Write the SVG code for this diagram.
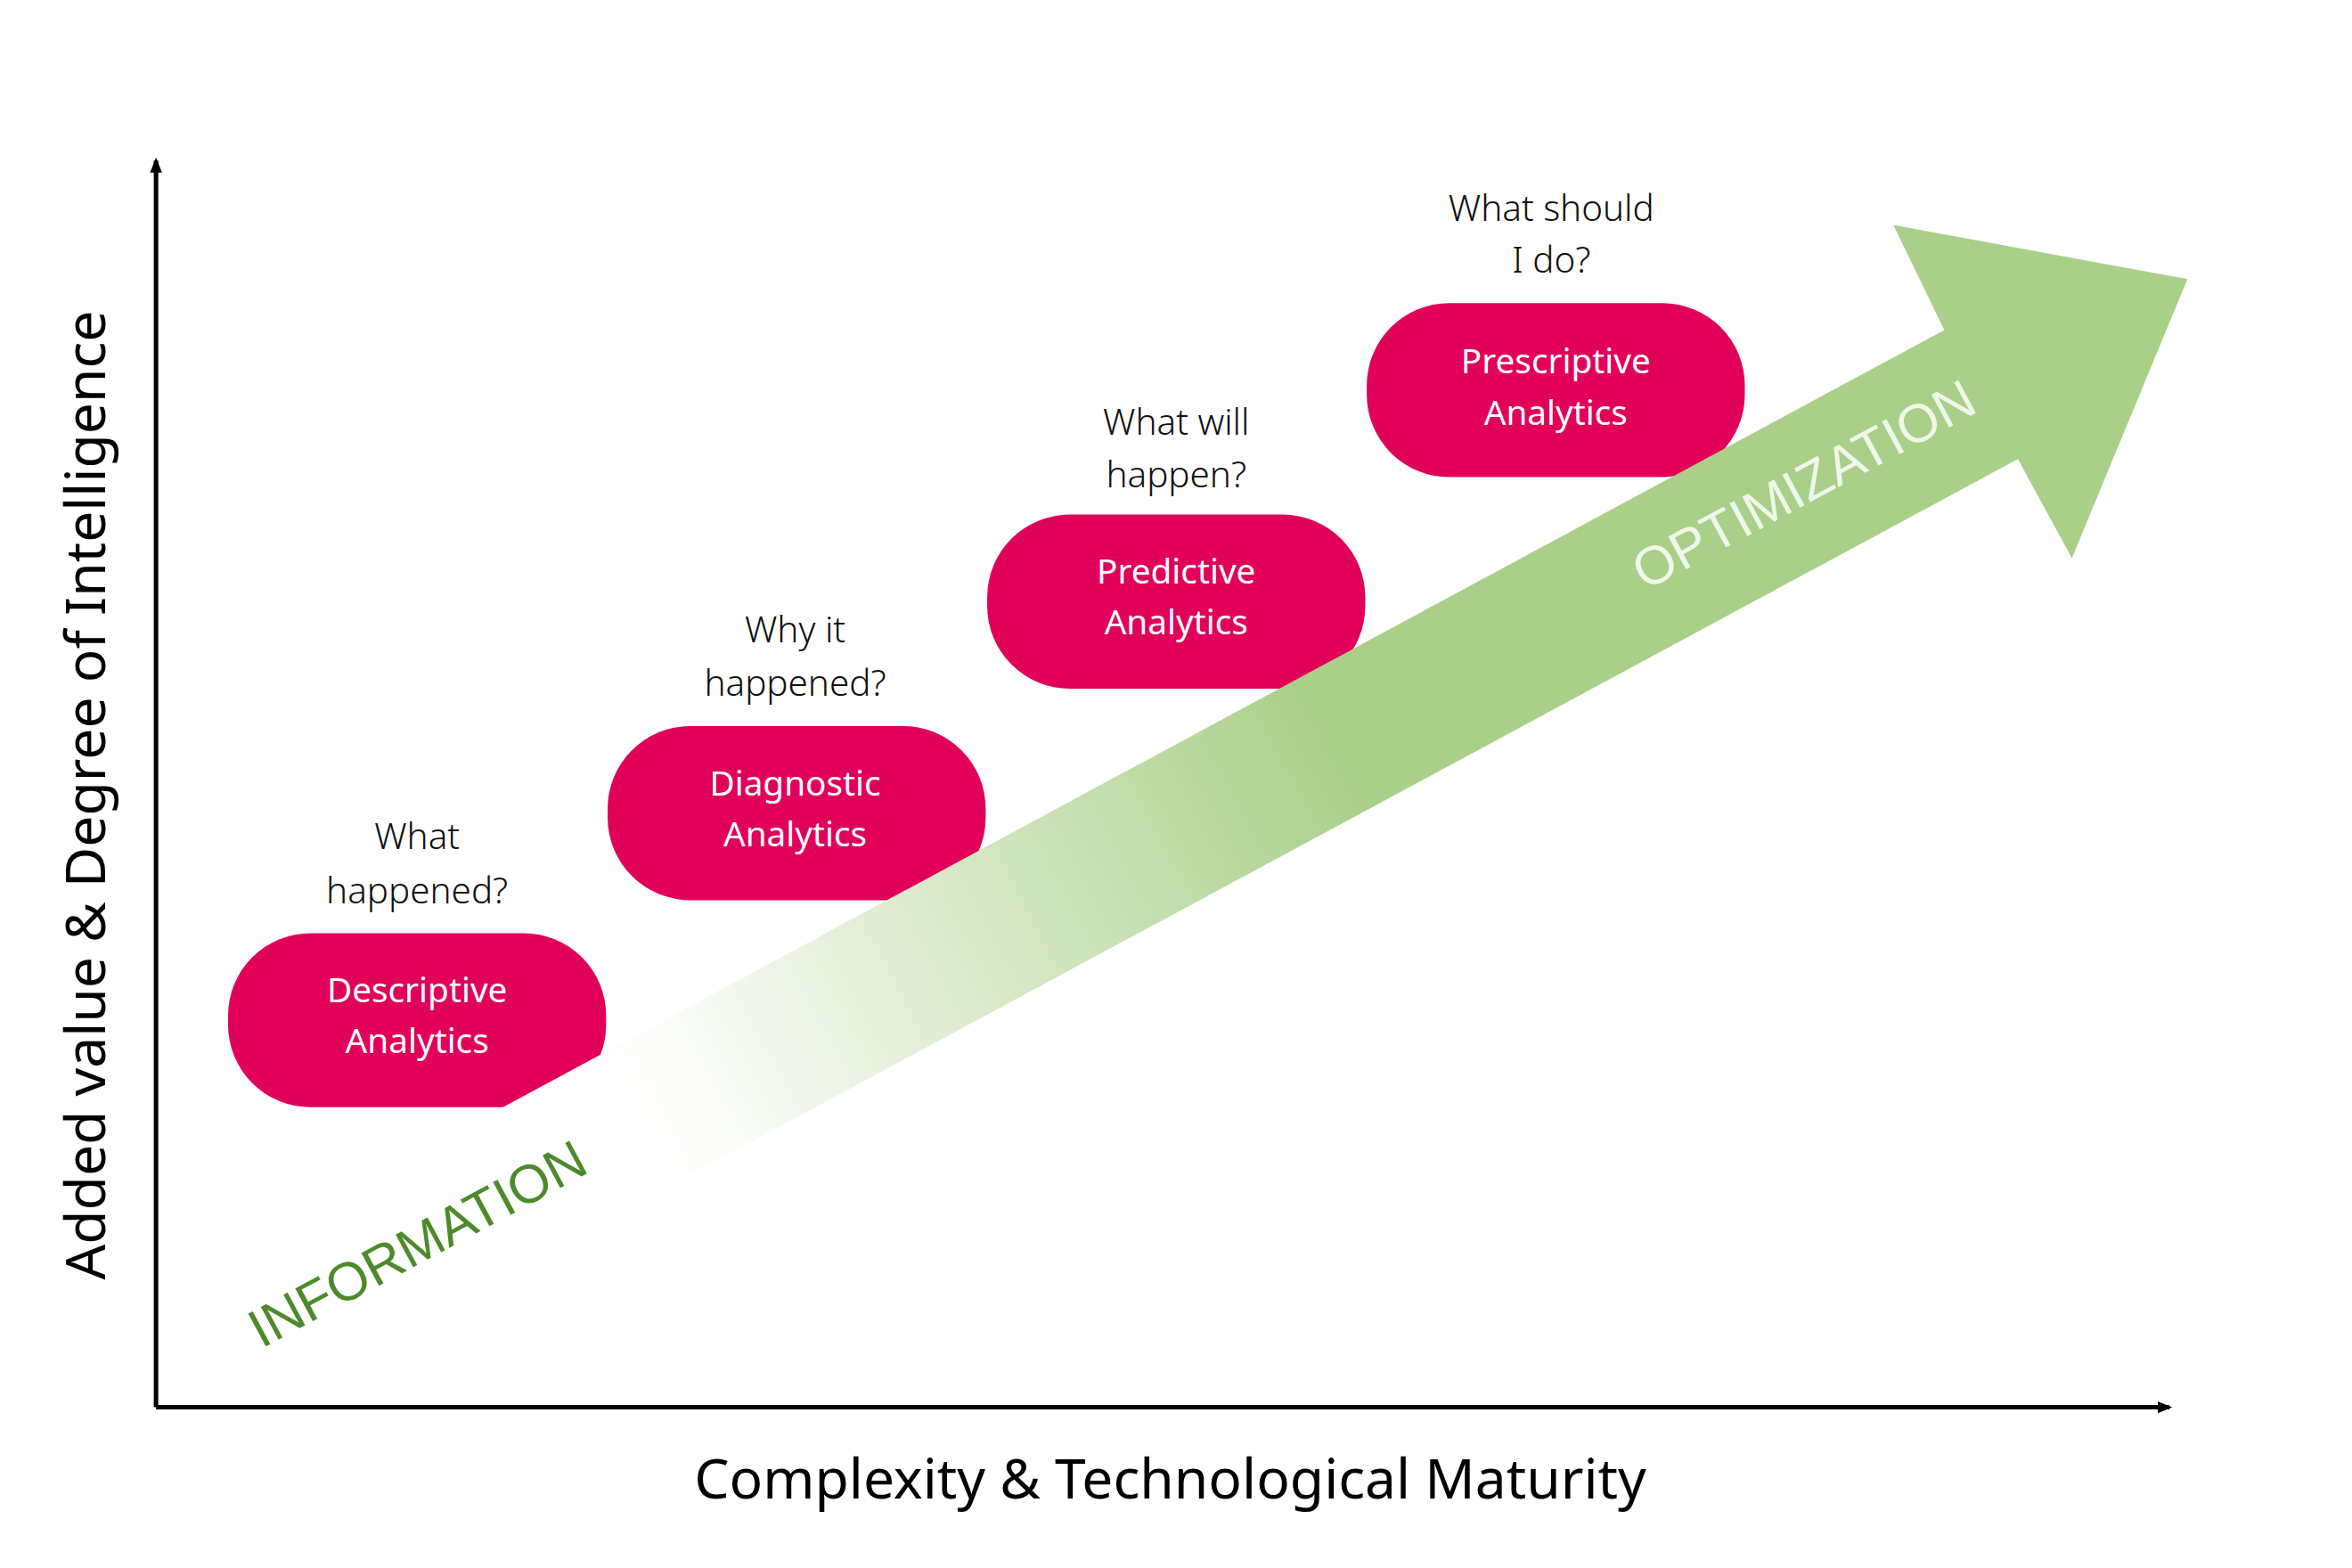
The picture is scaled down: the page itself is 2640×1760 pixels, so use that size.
<svg xmlns="http://www.w3.org/2000/svg" width="2640" height="1760" viewBox="0 0 2640 1760">
<defs>
<style>
.box{fill:#e1005a}
.bt{font-family:"Noto Sans","Liberation Sans",sans-serif;font-size:23px;fill:#fff;text-anchor:middle}
.q{font-family:"Noto Sans","Liberation Sans",sans-serif;font-weight:300;font-size:24px;fill:#111;text-anchor:middle}
.ax{font-family:"Noto Sans","Liberation Sans",sans-serif;font-size:37px;fill:#000;text-anchor:middle}
.big{font-family:"Liberation Sans",sans-serif;font-size:36px;text-anchor:middle}
</style>
<linearGradient id="g" gradientUnits="userSpaceOnUse" x1="400" y1="780" x2="900" y2="510">
<stop offset="0" stop-color="#fff"/>
<stop offset="0.15" stop-color="#fbfdf9"/>
<stop offset="1" stop-color="#a9cf88"/>
</linearGradient>
<marker id="ah" markerWidth="10" markerHeight="10" refX="8" refY="5" orient="auto" markerUnits="userSpaceOnUse"><path d="M0,1 L10,5 L0,9 Z" fill="#000"/></marker>
</defs>
<rect width="2640" height="1760" fill="#fff"/>
<g transform="scale(1.684)">
<g id="axes">
<line x1="104" y1="938" x2="104" y2="107" stroke="#000" stroke-width="3" marker-end="url(#ah)"/>
<line x1="104" y1="938" x2="1446" y2="938" stroke="#000" stroke-width="3" marker-end="url(#ah)"/>
<text class="ax" transform="translate(70,530) rotate(-90)">Added value &amp; Degree of Intelligence</text>
<text class="ax" x="780" y="999">Complexity &amp; Technological Maturity</text>
</g>
<g id="descriptive"><rect class="box" x="152" y="622" width="252" height="116" rx="55"/><text class="q" x="278" y="566">What</text><text class="q" x="278" y="602">happened?</text><text class="bt" x="278" y="668">Descriptive</text><text class="bt" x="278" y="702">Analytics</text></g>
<g id="diagnostic"><rect class="box" x="405" y="484" width="252" height="116" rx="55"/><text class="q" x="530" y="428">Why it</text><text class="q" x="530" y="464">happened?</text><text class="bt" x="530" y="530">Diagnostic</text><text class="bt" x="530" y="564">Analytics</text></g>
<g id="predictive"><rect class="box" x="658" y="343" width="252" height="116" rx="55"/><text class="q" x="784" y="290">What will</text><text class="q" x="784" y="325">happen?</text><text class="bt" x="784" y="389">Predictive</text><text class="bt" x="784" y="423">Analytics</text></g>
<g id="prescriptive"><rect class="box" x="911" y="202" width="252" height="116" rx="55"/><text class="q" x="1034" y="147">What should</text><text class="q" x="1034" y="182">I do?</text><text class="bt" x="1037" y="249">Prescriptive</text><text class="bt" x="1037" y="283">Analytics</text></g>
<g id="arrow">
<path d="M300,757 L1296,220 L1262,150 L1458,186 L1381,372 L1345,306 L347,844 Z" fill="url(#g)"/>
<text class="big" fill="#4d8a2c" transform="translate(284,840) rotate(-28.3)">INFORMATION</text>
<text class="big" fill="#f0f7ea" transform="translate(1208,334) rotate(-28.3)">OPTIMIZATION</text>
</g>
</g>
</svg>
